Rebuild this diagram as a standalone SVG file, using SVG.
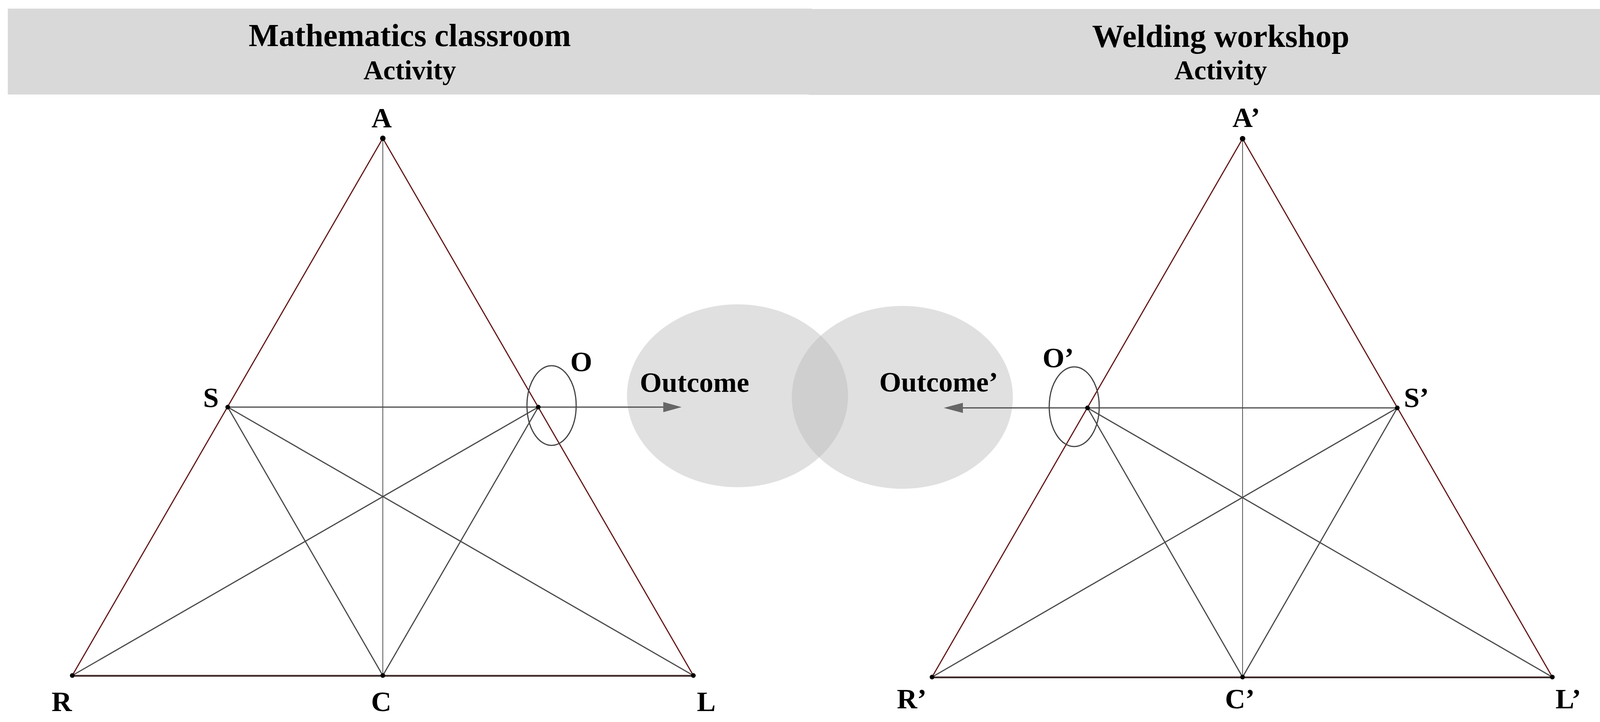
<svg xmlns="http://www.w3.org/2000/svg" width="4197" height="1848" viewBox="0 0 4197 1848">
<defs>
<style>
.band{fill:#d9d9d9}
.title{font-family:"Liberation Serif","Times New Roman",serif;font-weight:bold;fill:#000}
.h1{font-size:82px;text-anchor:middle}
.h2{font-size:70px;text-anchor:middle}
.lbl{font-family:"Liberation Serif","Times New Roman",serif;font-weight:bold;font-size:72px;fill:#000}
.side{stroke:#651a1a;stroke-width:3;fill:none;stroke-linecap:round}
.inner{stroke:#4a4a4a;stroke-width:3;fill:none}
.vert{stroke:#555;stroke-width:2;fill:none}
.base{stroke:#3a2a2a;stroke-width:4;fill:none}
.dot{fill:#000}
.ring{fill:none;stroke:#444;stroke-width:3}
.blob{fill:#bababa;fill-opacity:0.45}
.arrowline{stroke:#5a5a5a;stroke-width:3;fill:none}
.head{fill:#666}
</style>
</defs>
<rect width="4197" height="1848" fill="#fff"/>

<g id="header-left">
<rect class="band" x="20" y="22" width="2058" height="220"/>
<text class="title h1" x="1049" y="118">Mathematics classroom</text>
<text class="title h2" x="1049" y="203">Activity</text>
</g>
<g id="header-right">
<rect class="band" x="2070" y="23" width="2109" height="220"/>
<text class="title h1" x="3125" y="120">Welding workshop</text>
<text class="title h2" x="3125" y="203">Activity</text>
</g>

<g id="outcome-blobs">
<ellipse class="blob" cx="1888" cy="1013" rx="283" ry="234"/>
<ellipse class="blob" cx="2310" cy="1017" rx="283" ry="234"/>
</g>

<g id="connectors">
<!-- left triangle -->
<polygon class="side" points="980,354 185,1729 1775,1729"/>
<line class="vert" x1="980" y1="354" x2="980" y2="1729"/>
<line class="inner" x1="583" y1="1042" x2="1698" y2="1042"/>
<line class="inner" x1="583" y1="1042" x2="980" y2="1729"/>
<line class="inner" x1="583" y1="1042" x2="1775" y2="1729"/>
<line class="inner" x1="1378" y1="1042" x2="185" y2="1729"/>
<line class="inner" x1="1378" y1="1042" x2="980" y2="1729"/>
<line class="base" x1="185" y1="1730" x2="1775" y2="1730"/>
<polygon class="head" points="1698,1029 1745,1042 1698,1055"/>
<!-- right triangle -->
<polygon class="side" points="3181,355 2386,1733 3974,1733"/>
<line class="vert" x1="3181" y1="355" x2="3181" y2="1733"/>
<line class="inner" x1="3577" y1="1044" x2="2465" y2="1044"/>
<line class="inner" x1="2784" y1="1044" x2="3181" y2="1733"/>
<line class="inner" x1="2784" y1="1044" x2="3974" y2="1733"/>
<line class="inner" x1="3577" y1="1044" x2="2386" y2="1733"/>
<line class="inner" x1="3577" y1="1044" x2="3181" y2="1733"/>
<line class="base" x1="2386" y1="1734" x2="3974" y2="1734"/>
<polygon class="head" points="2465,1031 2416,1044 2465,1057"/>
</g>

<g id="node-O">
<ellipse class="ring" cx="1412" cy="1038" rx="63" ry="102"/>
<circle class="dot" cx="1378" cy="1042" r="6"/>
<text class="lbl" x="1460" y="950">O</text>
</g>
<g id="node-Outcome">
<text class="lbl" x="1638" y="1003">Outcome</text>
</g>
<g id="node-Outcome2">
<text class="lbl" x="2251" y="1002">Outcome’</text>
</g>
<g id="node-O2">
<ellipse class="ring" cx="2750" cy="1041" rx="64" ry="102"/>
<circle class="dot" cx="2784" cy="1044" r="6"/>
<text class="lbl" x="2669" y="940">O’</text>
</g>

<g id="node-A"><circle class="dot" cx="980" cy="354" r="7"/><text class="lbl" x="977" y="326" text-anchor="middle">A</text></g>
<g id="node-S"><circle class="dot" cx="583" cy="1042" r="6"/><text class="lbl" x="520" y="1042">S</text></g>
<g id="node-R"><circle class="dot" cx="185" cy="1729" r="6"/><text class="lbl" x="132" y="1820">R</text></g>
<g id="node-C"><circle class="dot" cx="980" cy="1729" r="6"/><text class="lbl" x="976" y="1820" text-anchor="middle">C</text></g>
<g id="node-L"><circle class="dot" cx="1775" cy="1729" r="6"/><text class="lbl" x="1784" y="1820">L</text></g>

<g id="node-A2"><circle class="dot" cx="3181" cy="355" r="7"/><text class="lbl" x="3155" y="325">A’</text></g>
<g id="node-S2"><circle class="dot" cx="3577" cy="1044" r="6"/><text class="lbl" x="3594" y="1042">S’</text></g>
<g id="node-R2"><circle class="dot" cx="2386" cy="1733" r="6"/><text class="lbl" x="2296" y="1813">R’</text></g>
<g id="node-C2"><circle class="dot" cx="3181" cy="1733" r="6"/><text class="lbl" x="3136" y="1813">C’</text></g>
<g id="node-L2"><circle class="dot" cx="3974" cy="1733" r="6"/><text class="lbl" x="3982" y="1813">L’</text></g>
</svg>
